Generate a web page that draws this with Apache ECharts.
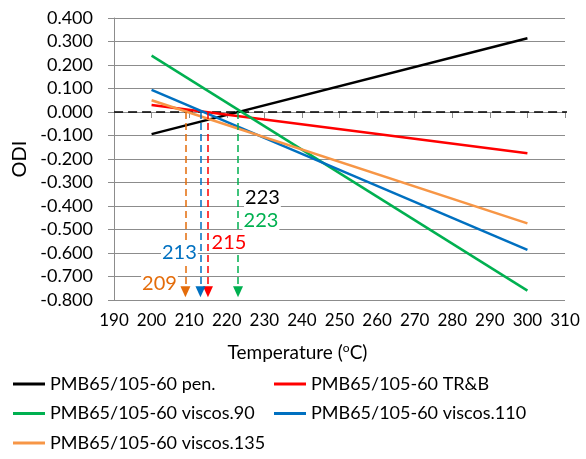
<!DOCTYPE html>
<html>
<head>
<meta charset="utf-8">
<script src="https://cdn.jsdelivr.net/npm/echarts@6/dist/echarts.min.js"></script>
<style>
  html, body { margin: 0; padding: 0; background: #fff; }
  #chartOdi { width: 586px; height: 459px; }
</style>
</head>
<body>
<div id="chartOdi"></div>
<script>
// data
const temps = [200, 300]
const pen = [-0.094, 0.314]
const trb = [0.030, -0.176]
const visc90 = [0.240, -0.760]
const visc110 = [0.094, -0.587]
const visc135 = [0.050, -0.474]
const names = ['PMB65/105-60 pen.', 'PMB65/105-60 TR&B', 'PMB65/105-60 viscos.90',
  'PMB65/105-60 viscos.110', 'PMB65/105-60 viscos.135']
// temperatures where each curve crosses ODI = 0
const crossPen = 223
const crossTrb = 215
const cross90 = 223
const cross110 = 213
const cross135 = 209
const zeroLineX = [186.3, 314.5]
const arrowBottom = -0.765

const font = 'Lato, "Noto Sans", sans-serif'
const gridColor = '#8c8c8c'

function pairs (ys) {
  return temps.map((t, i) => [t, ys[i]])
}

function arrow (x, color) {
  return {
    silent: true,
    symbol: ['none', 'triangle'],
    symbolSize: [10, 11],
    label: { show: false },
    lineStyle: { color: color, type: [7, 4], width: 1.5 },
    data: [[{ coord: [x, 0] }, { coord: [x, arrowBottom] }]]
  }
}

function tag (x, y, text, color, side) {
  return {
    value: [x, y],
    label: {
      show: true,
      formatter: text,
      color: color,
      position: side,
      distance: 0,
      fontSize: 20,
      fontFamily: font,
      backgroundColor: '#fff',
      padding: [0, 1]
    }
  }
}

function lineSeries (name, ys, color) {
  return {
    name: name,
    type: 'line',
    data: pairs(ys),
    symbol: 'none',
    lineStyle: { color: color, width: 2.5 },
    itemStyle: { color: color },
    z: 3
  }
}

function legendBox (data, left) {
  return {
    data: data,
    orient: 'vertical',
    left: left,
    top: 374,
    height: 90,
    padding: 0,
    icon: 'rect',
    itemWidth: 32,
    itemHeight: 3,
    itemGap: 9.5,
    textStyle: { color: '#000', fontSize: 18, fontFamily: font, lineHeight: 20 }
  }
}

const option = {
  animation: false,
  backgroundColor: '#fff',
  grid: { left: 114, right: 21, top: 18, bottom: 159 },
  legend: [
    legendBox([names[0], names[2], names[4]], 13),
    legendBox([names[1], names[3]], 274)
  ],
  xAxis: {
    type: 'value',
    min: 190,
    max: 310,
    interval: 10,
    name: 'Temperature ({sup|o}C)',
    nameLocation: 'middle',
    nameGap: 42,
    nameTextStyle: {
      color: '#000',
      fontSize: 19,
      fontFamily: font,
      padding: [0, 84, 0, 0],
      rich: { sup: { fontSize: 12, fontFamily: font, padding: [0, 0, 9, 0] } }
    },
    axisLine: { lineStyle: { color: gridColor } },
    axisTick: { show: true, length: 6, lineStyle: { color: gridColor } },
    axisLabel: { color: '#000', fontSize: 17, fontFamily: font, margin: 12 },
    splitLine: { show: false }
  },
  yAxis: {
    type: 'value',
    min: -0.8,
    max: 0.4,
    interval: 0.1,
    name: 'ODI',
    nameLocation: 'middle',
    nameGap: 80,
    nameTextStyle: { color: '#000', fontSize: 20, fontFamily: font },
    axisLine: { show: true, lineStyle: { color: gridColor } },
    axisTick: { show: true, length: 6, lineStyle: { color: gridColor } },
    axisLabel: {
      color: '#000',
      fontSize: 18,
      fontFamily: font,
      margin: 21,
      formatter: v => v.toFixed(3)
    },
    splitLine: { lineStyle: { color: gridColor, width: 1 } }
  },
  series: [
    lineSeries(names[0], pen, '#000000'),
    Object.assign(lineSeries(names[1], trb, '#ff0000'), { markLine: arrow(crossTrb, '#ff0000') }),
    Object.assign(lineSeries(names[2], visc90, '#00b050'), { markLine: arrow(cross90, '#00b050') }),
    Object.assign(lineSeries(names[3], visc110, '#0070c0'), { markLine: arrow(cross110, '#0070c0') }),
    Object.assign(lineSeries(names[4], visc135, '#f79646'), { markLine: arrow(cross135, '#e46c0a') }),
    {
      name: 'zero',
      type: 'line',
      data: [[zeroLineX[0], 0], [zeroLineX[1], 0]],
      clip: false,
      symbol: 'none',
      silent: true,
      lineStyle: { color: '#000', width: 1.5, type: [9, 5] },
      z: 2
    },
    {
      name: 'tags',
      type: 'scatter',
      symbolSize: 0,
      silent: true,
      z: 10,
      itemStyle: { opacity: 1 },
      labelLayout: { hideOverlap: false },
      data: [
        tag(207.0, -0.728, String(cross135), '#e46c0a', 'left'),
        tag(212.3, -0.600, String(cross110), '#0070c0', 'left'),
        tag(215.7, -0.557, String(crossTrb), '#ff0000', 'right'),
        tag(224.6, -0.366, String(crossPen), '#000000', 'right'),
        tag(224.2, -0.464, String(cross90), '#00b050', 'right')
      ]
    }
  ]
}

const chart = echarts.init(document.getElementById('chartOdi'))
chart.setOption(option)
</script>
</body>
</html>
